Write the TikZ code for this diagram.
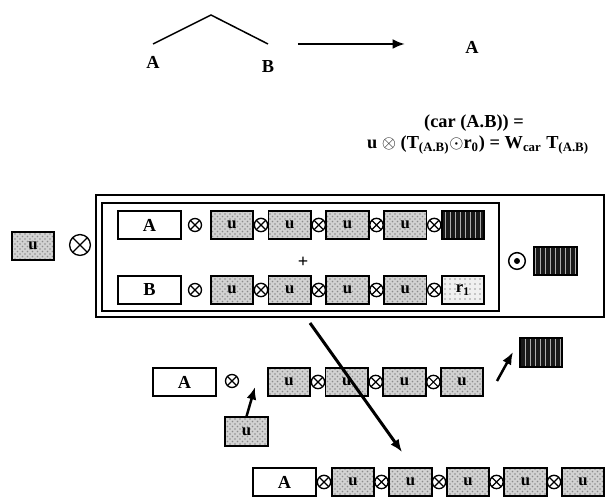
\documentclass[tikz,border=0pt]{standalone}
\usepackage{fontspec}
\setmainfont{Liberation Serif}
\usetikzlibrary{positioning,patterns,arrows.meta}
\tikzset{
  lbl/.style={font=\fontsize{11}{13}\selectfont\bfseries, inner sep=1pt},
  frame/.style={draw, line width=1.1pt, inner sep=0pt},
  namebox/.style={frame, fill=white, minimum width=38pt, minimum height=17pt,
    font=\fontsize{11}{13}\selectfont\bfseries},
  ubox/.style={frame, minimum width=25.5pt, minimum height=17pt,
    preaction={fill=gray!35}, pattern=crosshatch dots, pattern color=gray!90,
    font=\fontsize{10}{12}\selectfont\bfseries},
  rbox/.style={frame, minimum width=25.5pt, minimum height=17pt,
    preaction={fill=gray!12}, pattern=dots, pattern color=gray!80,
    font=\fontsize{10}{12}\selectfont\bfseries},
  dbox/.style={frame, minimum width=25.5pt, minimum height=17pt,
    preaction={fill=black!90}, pattern=vertical lines, pattern color=gray!65},
  otimes/.style={circle, draw, line width=0.8pt, minimum size=#1, inner sep=0pt, fill=white,
    path picture={\draw[line width=0.7pt]
      (path picture bounding box.north west) -- (path picture bounding box.south east)
      (path picture bounding box.north east) -- (path picture bounding box.south west);}},
  otimes/.default=8pt,
  odot/.style={circle, draw, line width=0.9pt, minimum size=10pt, inner sep=0pt,
    path picture={\fill (path picture bounding box.center) circle (1.8pt);}},
  arr/.style={line width=#1, -{Latex[length=7.5pt,width=6pt]}},
}
\begin{document}
\begin{tikzpicture}[x=0.6pt, y=-0.6pt]
	\useasboundingbox (0,0) rectangle (606,499);
	\coordinate (apex) at (211,15);
	\coordinate (lA) at (153,44);
	\coordinate (lB) at (268,44);
	\draw[line width=0.9pt] (lA) -- (apex) -- (lB);
	\node[lbl, below=6.5pt of lA] (tA) {A};
	\node[lbl, below=8.5pt of lB] (tB) {B};
	\coordinate (ar1) at (298,44);
	\coordinate (ar2) at (405,44);
	\draw[arr=1.4pt] (ar1) -- (ar2);
	\node[lbl] (res) at (472,47) {A};
	\node[lbl] (eq1) at (474,123) {(car (A.B)) =};
	\node[lbl] (eq2) at (478,145) {u $\otimes$ (T\textsubscript{(A.B)}$\odot$r\textsubscript{0}) = W\textsubscript{car} T\textsubscript{(A.B)}};
	\draw[line width=0.9pt] (96,195) rectangle (604,317);
	\draw[line width=0.9pt] (102,203) rectangle (499,311);
	\node[ubox] (uL) at (33,246) {u};
	\node[otimes=12.5pt] (oL) at (80,245) {};
	\node[namebox] (A1) at (149.5,225) {A};
	\node[otimes=7.8pt] (oA) at (195,225) {};
	\foreach \i in {0,...,3}
		\node[ubox] (a\i) at (232+57.75*\i,225) {u};
	\node[dbox] (a4) at (463,225) {};
	\node[namebox] (B1) at (149.5,290) {B};
	\node[otimes=7.8pt] (oB) at (195,290) {};
	\foreach \i in {0,...,3}
		\node[ubox] (b\i) at (232+57.75*\i,290) {u};
	\node[rbox] (b4) at (463,290) {r\textsubscript{1}};
	\foreach \i in {0,...,3} {
		\node[otimes] (la\i) at (261+57.75*\i,225) {};
		\node[otimes] (lb\i) at (261+57.75*\i,290) {};
	}
	\node[lbl] (plus) at (303,262) {+};
	\node[odot] (od) at (517,261) {};
	\node[dbox] (d0) at (555.5,261) {};
	\node[namebox] (A2) at (184.5,382) {A};
	\node[otimes=7.8pt] (oC) at (232,381) {};
	\foreach \i in {0,...,3}
		\node[ubox] (c\i) at (289+57.7*\i,382) {u};
	\foreach \i in {0,...,2}
		\node[otimes] (lc\i) at (318+57.7*\i,382) {};
	\coordinate (ds) at (310,323);
	\coordinate (dt) at (402,452);
	\draw[arr=1.8pt] (ds) -- (dt);
	\node[ubox] (ub) at (246.5,431.5) {u};
	\coordinate (ubT) at (255,387);
	\draw[arr=1.5pt] (ub.north) -- (ubT);
	\coordinate (rs) at (497,381);
	\coordinate (rt) at (513,352);
	\draw[arr=1.5pt] (rs) -- (rt);
	\node[dbox] (d1) at (541,352.5) {};
	\node[namebox] (A3) at (284.5,482) {A};
	\foreach \i in {0,...,4} {
		\node[otimes] (ld\i) at (324+57.5*\i,482) {};
		\node[ubox] (e\i) at (353+57.5*\i,482) {u};
	}
\end{tikzpicture}
\end{document}
